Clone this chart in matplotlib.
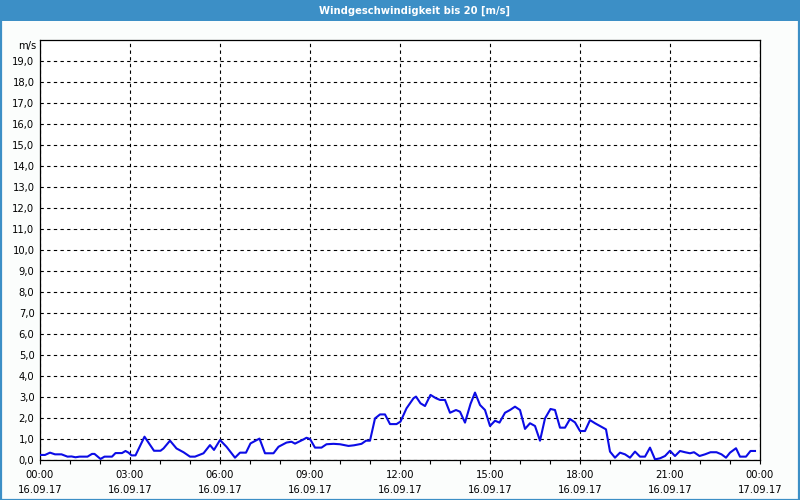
import matplotlib
matplotlib.use('Agg')
import matplotlib.pyplot as plt
from matplotlib.patches import Rectangle
from matplotlib.ticker import MultipleLocator, FixedLocator

# wind speed readings, minutes after 16.09.17 00:00
minutes = [0, 10, 20, 30, 43, 55, 63, 71, 79, 95, 104, 109, 121, 129, 144, 151,
           164, 171, 177, 183, 191, 209, 228, 241, 247, 260, 273, 287, 300, 310,
           327, 340, 348, 360, 373, 390, 400, 412, 421, 439, 450, 467, 477, 493,
           503, 510, 527, 533, 540, 550, 563, 573, 587, 600, 617, 628, 643, 652,
           660, 670, 680, 690, 700, 713, 721, 733, 747, 752, 761, 770, 781, 792,
           800, 810, 820, 832, 840, 850, 861, 870, 880, 890, 900, 910, 919, 930,
           940, 950, 960, 970, 980, 990, 1000, 1010, 1021, 1030, 1040, 1050, 1060,
           1070, 1080, 1090, 1100, 1110, 1120, 1132, 1140, 1150, 1160, 1170, 1180,
           1190, 1200, 1210, 1220, 1230, 1240, 1250, 1260, 1270, 1280, 1290, 1300,
           1308, 1319, 1330, 1341, 1353, 1363, 1372, 1380, 1392, 1400, 1412, 1421,
           1430]
speed = [0.24, 0.24, 0.35, 0.27, 0.27, 0.16, 0.17, 0.13, 0.16, 0.16, 0.29, 0.29,
         0.05, 0.16, 0.16, 0.33, 0.33, 0.43, 0.35, 0.22, 0.22, 1.11, 0.44, 0.44,
         0.55, 0.92, 0.55, 0.37, 0.16, 0.16, 0.32, 0.71, 0.48, 0.95, 0.63, 0.11,
         0.35, 0.35, 0.79, 1.02, 0.32, 0.32, 0.63, 0.83, 0.87, 0.78, 0.98, 1.06,
         1.00, 0.59, 0.59, 0.75, 0.77, 0.75, 0.67, 0.70, 0.77, 0.92, 0.92, 1.98,
         2.17, 2.17, 1.71, 1.71, 1.83, 2.46, 2.94, 3.02, 2.70, 2.57, 3.10, 2.94,
         2.86, 2.86, 2.25, 2.38, 2.30, 1.78, 2.67, 3.21, 2.62, 2.38, 1.62, 1.87,
         1.78, 2.25, 2.38, 2.54, 2.38, 1.48, 1.75, 1.62, 0.92, 1.98, 2.43, 2.38,
         1.54, 1.54, 1.95, 1.79, 1.38, 1.38, 1.90, 1.75, 1.62, 1.46, 0.40, 0.11,
         0.35, 0.27, 0.11, 0.40, 0.16, 0.16, 0.59, 0.03, 0.08, 0.19, 0.44, 0.19,
         0.43, 0.37, 0.32, 0.37, 0.19, 0.27, 0.37, 0.37, 0.27, 0.11, 0.35, 0.56,
         0.16, 0.16, 0.43, 0.43]

tick_hours = [0, 3, 6, 9, 12, 15, 18, 21, 24]
tick_times = ['00:00', '03:00', '06:00', '09:00', '12:00', '15:00', '18:00', '21:00', '00:00']
tick_dates = ['16.09.17'] * 8 + ['17.09.17']
y_ticks = list(range(0, 20))

title = 'Windgeschwindigkeit bis 20 [m/s]'
frame_blue = '#3c8fc6'

plt.rcParams['font.family'] = ['DejaVu Sans']

fig = plt.figure(figsize=(8, 5), dpi=100)
fig.patch.set_facecolor('#fbfdfc')

# title bar + outer frame
fig.patches.append(Rectangle((0, 0.958), 1, 0.042, transform=fig.transFigure,
                             facecolor=frame_blue, edgecolor='none', zorder=0))
fig.patches.append(Rectangle((0.001, 0.001), 0.998, 0.998, transform=fig.transFigure,
                             fill=False, edgecolor=frame_blue, linewidth=1.6, zorder=1))
fig.text(0.518, 0.979, title, color='white', fontsize=7.2, fontweight='bold',
         ha='center', va='center')

ax = fig.add_axes([0.05, 0.08, 0.9, 0.84])
ax.set_facecolor('white')

hours = [m / 60 for m in minutes]
ax.plot(hours, speed, color='#0c0ce6', linewidth=1.5, zorder=3)

ax.set_xlim(0, 24)
ax.set_ylim(0, 20)

ax.set_yticks(y_ticks)
ax.set_yticklabels([f'{v},0' for v in y_ticks])
ax.xaxis.set_major_locator(FixedLocator(tick_hours))
ax.set_xticklabels([f'{t}\n{d}' for t, d in zip(tick_times, tick_dates)], linespacing=1.7)
ax.xaxis.set_minor_locator(MultipleLocator(1))

ax.tick_params(axis='y', length=0, pad=4, labelsize=7.2, colors='black')
ax.tick_params(axis='x', which='both', length=3, width=0.8, direction='out',
               pad=4, labelsize=7.2)

ax.grid(True, which='major', color='black', linestyle=(0, (3, 3)), linewidth=0.8)
for s in ax.spines.values():
    s.set_color('black')
    s.set_linewidth(0.9)

ax.text(-0.005, 19.72, 'm/s', transform=ax.get_yaxis_transform(), ha='right',
        va='center', fontsize=7.2)

fig.savefig('out.png', dpi=100, facecolor=fig.get_facecolor())
